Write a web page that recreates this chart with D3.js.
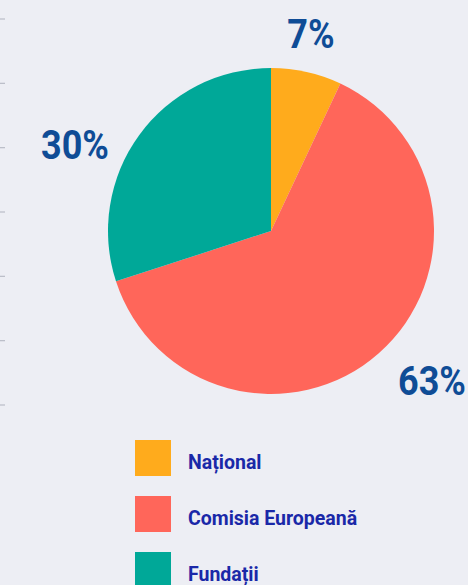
<!DOCTYPE html>
<html>
<head>
<meta charset="utf-8">
<script src="https://cdn.jsdelivr.net/npm/d3@7"></script>
<style>
  body { margin: 0; background: #edeef4; }
  svg { display: block; }
</style>
</head>
<body>
<script>
// data
var categories = ["Național", "Comisia Europeană", "Fundații"];
var values = [7, 63, 30];
var pctLabels = ["7%", "63%", "30%"];
var colors = ["#ffab1c", "#ff665a", "#00a898"];

var width = 468, height = 585;
var cx = 271, cy = 231, radius = 163;

var svg = d3.select("body").append("svg")
    .attr("width", width)
    .attr("height", height);

// little grey ticks on the left edge (leftover axis)
var tickY = d3.scaleLinear().domain([0, 6]).range([19, 405]);
svg.append("g").selectAll("line")
    .data(d3.range(7))
  .enter().append("line")
    .attr("x1", 0).attr("x2", 5)
    .attr("y1", function(d) { return tickY(d); })
    .attr("y2", function(d) { return tickY(d); })
    .style("stroke", "#b9bcc6")
    .style("stroke-width", 1.2);

var pie = d3.pie().sort(null).value(function(d) { return d; });
var arc = d3.arc().innerRadius(0).outerRadius(radius);
var arcs = pie(values);

var g = svg.append("g").attr("transform", "translate(" + cx + "," + cy + ")");
g.selectAll("path")
    .data(arcs)
  .enter().append("path")
    .attr("d", arc)
    .style("fill", function(d, i) { return colors[i]; });

// percentage labels outside the pie (font is a bit narrow in the original)
var labelPos = [[311, 48], [432, 395], [75, 159]];
svg.selectAll(".pct")
    .data(arcs)
  .enter().append("text")
    .attr("class", "pct")
    .attr("transform", function(d, i) {
        return "translate(" + labelPos[i][0] + "," + labelPos[i][1] + ") scale(0.9,1)";
    })
    .attr("text-anchor", "middle")
    .style("font-family", "Roboto, sans-serif")
    .style("font-weight", 700)
    .style("font-size", "40px")
    .style("fill", "#0f4c96")
    .text(function(d, i) { return pctLabels[i]; });

// legend
var legY = d3.scalePoint().domain(categories).range([440, 552]);
var leg = svg.selectAll(".leg")
    .data(categories)
  .enter().append("g")
    .attr("class", "leg")
    .attr("transform", function(d) { return "translate(135," + legY(d) + ")"; });
leg.append("rect")
    .attr("width", 36).attr("height", 36)
    .style("fill", function(d, i) { return colors[i]; });
leg.append("text")
    .attr("x", 53).attr("y", 29)
    .style("font-family", "Roboto, sans-serif")
    .style("font-weight", 700)
    .style("font-size", "19.5px")
    .style("fill", "#1a28a8")
    .text(function(d) { return d; });
</script>
</body>
</html>
